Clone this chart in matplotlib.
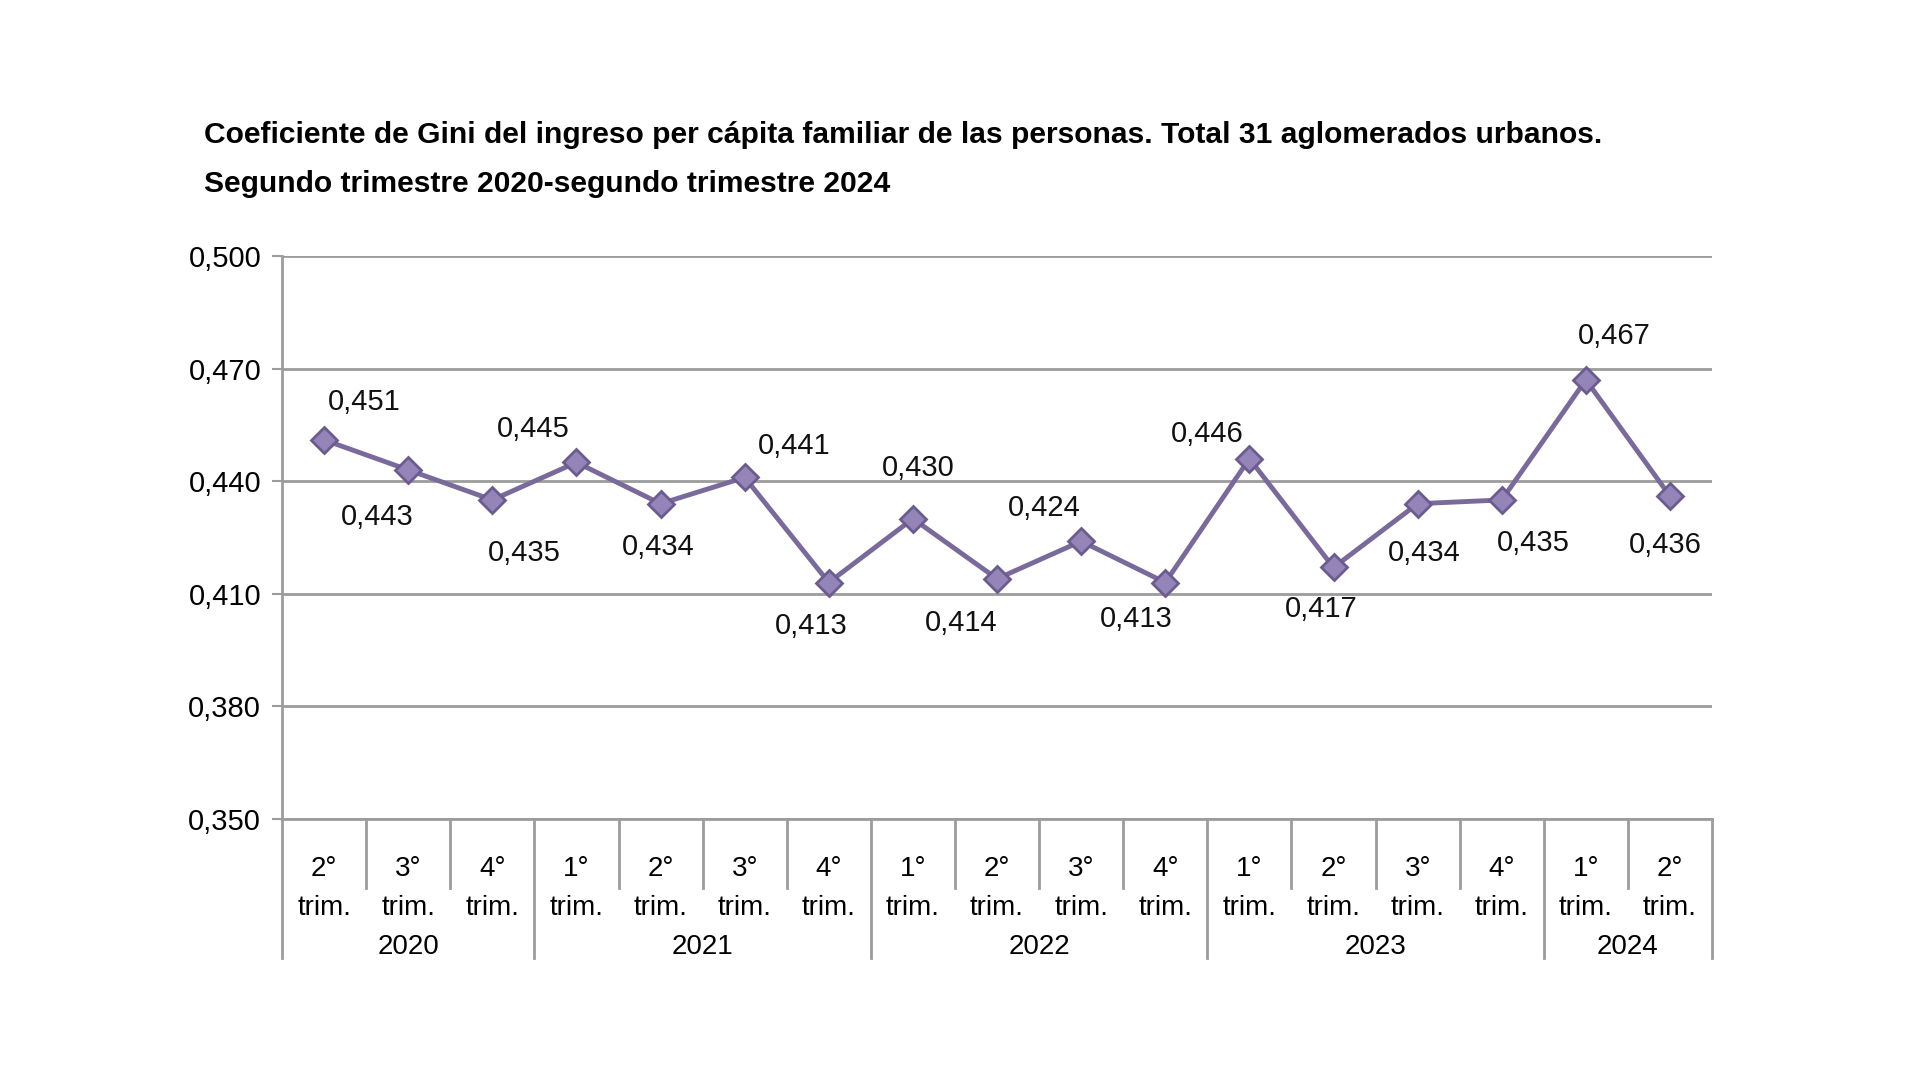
import matplotlib
matplotlib.use("Agg")
import matplotlib.pyplot as plt
import matplotlib.transforms as mtransforms
from matplotlib import font_manager

# Gini coefficient, 2nd quarter 2020 - 2nd quarter 2024
quarters = ["2°", "3°", "4°",
            "1°", "2°", "3°", "4°",
            "1°", "2°", "3°", "4°",
            "1°", "2°", "3°", "4°",
            "1°", "2°"]
years = ["2020", "2021", "2022", "2023", "2024"]
year_sizes = [3, 4, 4, 4, 2]
gini = [0.451, 0.443, 0.435, 0.445, 0.434, 0.441, 0.413, 0.430, 0.414,
        0.424, 0.413, 0.446, 0.417, 0.434, 0.435, 0.467, 0.436]
yticks = [0.350, 0.380, 0.410, 0.440, 0.470, 0.500]

# label offsets (pixels) relative to each marker
label_dx = [40, -31, 32, -43, -2, 49, -18, 5, -36, -37, -29, -42, -12, 7, 32, 28, -5]
label_dy = [38, -47, -53, 33, -43, 31, -43, 51, -44, 33, -36, 25, -42, -49, -43, 44, -49]

names = {f.name for f in font_manager.fontManager.ttflist}
title_font = "Liberation Sans Narrow" if "Liberation Sans Narrow" in names else "Liberation Sans"
title_size = 20 if title_font == "Liberation Sans Narrow" else 21.6
plt.rcParams["font.family"] = ["Liberation Sans", "DejaVu Sans"]

grey = "#9c9c9c"
line_col = "#7a6a9c"

fig = plt.figure(figsize=(19.2, 10.81), dpi=100)
ax = fig.add_axes([0.1469, 0.2424, 0.7448, 0.5208])

x = list(range(len(gini)))
ax.plot(x, gini, color=line_col, lw=3.5, marker="D", markersize=13,
        markerfacecolor="#9485b8", markeredgecolor="#6c5b90", markeredgewidth=2,
        zorder=3)

for i, v in enumerate(gini):
    ax.annotate(f"{v:.3f}".replace(".", ","), (i, v),
                xytext=(label_dx[i], label_dy[i]), textcoords="offset pixels",
                ha="center", va="center", fontsize=21, color="#111111")

ax.set_xlim(-0.5, len(gini) - 0.5)
ax.set_ylim(0.35, 0.50)
ax.set_yticks(yticks)
ax.set_yticklabels([f"{t:.3f}".replace(".", ",") for t in yticks], fontsize=21)
ax.yaxis.grid(True, color=grey, lw=2)
ax.set_axisbelow(True)
ax.tick_params(axis="y", length=7, width=1.5, color=grey, pad=8)
ax.set_xticks([])

for s in ["top", "right"]:
    ax.spines[s].set_visible(False)
for s in ["left", "bottom"]:
    ax.spines[s].set_color(grey)
    ax.spines[s].set_linewidth(2)

trans = mtransforms.blended_transform_factory(ax.transData, ax.transAxes)

# category labels
for i, q in enumerate(quarters):
    ax.text(i, -0.088, q, transform=trans, ha="center", va="center", fontsize=20)
    ax.text(i, -0.158, "trim.", transform=trans, ha="center", va="center", fontsize=20)

# separators
start = 0
year_edges = [-0.5]
for y, n in zip(years, year_sizes):
    ax.text(start + (n - 1) / 2, -0.227, y, transform=trans, ha="center",
            va="center", fontsize=20)
    start += n
    year_edges.append(start - 0.5)
for b in range(len(gini) + 1):
    xb = b - 0.5
    low = -0.247 if xb in year_edges else -0.1226
    ax.plot([xb, xb], [0, low], transform=trans, color=grey, lw=2, clip_on=False)

fig.text(0.106, 0.875, "Coeficiente de Gini del ingreso per cápita familiar de las personas. "
         "Total 31 aglomerados urbanos.", fontsize=title_size, fontweight="bold",
         family=title_font, va="center", ha="left")
fig.text(0.106, 0.830, "Segundo trimestre 2020-segundo trimestre 2024", fontsize=title_size,
         fontweight="bold", family=title_font, va="center", ha="left")

plt.savefig("out.png", dpi=100)
